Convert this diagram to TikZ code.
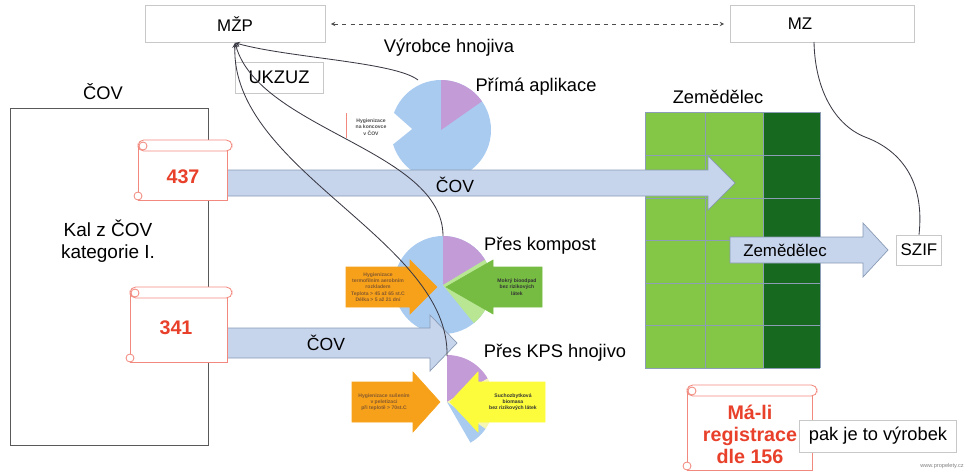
\documentclass[tikz,border=0pt]{standalone}
\usepackage{fontspec}
\setmainfont{Liberation Sans}
\usetikzlibrary{positioning}

\definecolor{boxgray}{HTML}{C8C8C8}
\definecolor{arrowfill}{HTML}{C6D4EC}
\definecolor{arrowdraw}{HTML}{8A9BB5}
\definecolor{pieblue}{HTML}{A9CBF0}
\definecolor{piepurple}{HTML}{C39BD6}
\definecolor{pielime}{HTML}{B8E692}
\definecolor{pieyellow}{HTML}{F6F6B4}
\definecolor{greenarrow}{HTML}{76BC43}
\definecolor{orangearrow}{HTML}{F7A11A}
\definecolor{yellowarrow}{HTML}{FCFC3C}
\definecolor{fieldlight}{HTML}{84C645}
\definecolor{fielddark}{HTML}{17691F}
\definecolor{gridline}{HTML}{8C9DB6}
\definecolor{scrollred}{HTML}{F2897E}
\definecolor{numred}{HTML}{E8402A}
\definecolor{curve}{HTML}{3A3A45}

\tikzset{
  box/.style={draw=boxgray, fill=white, minimum height=0.93cm, inner sep=2pt,
    font=\fontsize{12}{14}\selectfont},
  fat/.style={draw=arrowdraw, fill=arrowfill, line width=0.5pt},
  scrl/.style={draw=scrollred, line width=0.6pt, fill=white},
  tinytext/.style={font=\fontsize{3.6}{4.4}\selectfont\bfseries, align=center},
  lbl/.style={font=\fontsize{13}{15}\selectfont},
  regtext/.style={font=\fontsize{14}{15.6}\selectfont\bfseries, text=numred, align=center},
  link/.style={draw=curve, line width=0.6pt},
}

% #2 start, #3 tip, #4 head base, #5 centre y, #6 body half, #7 head half
\newcommand\fatarrow[7][fat]{%
  \draw[#1] (#2,#5-#6) -- (#4,#5-#6) -- (#4,#5-#7) -- (#3,#5)
    -- (#4,#5+#7) -- (#4,#5+#6) -- (#2,#5+#6) -- cycle;}

% scroll: left, top, right, bottom
\newcommand\scrollshape[4]{%
  \draw[scrl] (#1,#2+6) rectangle (#3-5,#4);
  \draw[scrl, rounded corners=4pt] (#1,#2) rectangle (#3,#2+11);
  \draw[scrl] (#1+5,#2+6) circle[radius=4];
  \draw[scrl] (#1,#4-4) circle[radius=4];}

\begin{document}
\begin{tikzpicture}[x=0.025cm,y=-0.025cm,>=stealth]
\useasboundingbox (0,0) rectangle (978,474);

% ministries
\node (mzp) [box, minimum width=4.5cm] at (235,24) {MŽP};
\node (mz)  [box, minimum width=4.6cm] at (822,24) {};
\node (mzname) [font=\fontsize{12}{14}\selectfont] at (800,24) {MZ};
\draw[<->, dashed, gray!60!black, shorten <=4pt, shorten >=4pt] (mzp) -- (mz);

\node (vyrobce) [lbl] at (449,48) {Výrobce hnojiva};
\node (ukzuz) [box, font=\fontsize{13}{15}\selectfont, minimum width=2.2cm, minimum height=0.77cm] at (279,77.5) {UKZUZ};

% wastewater plant
\node (covname) [lbl] at (103,92) {ČOV};
\node (cov) [draw=gray!70!black, minimum width=4.95cm, minimum height=8.42cm] at (109,276.5) {};
\node (kal) [lbl, align=center, font=\fontsize{13.5}{15.6}\selectfont] at (108,241) {Kal z ČOV\\kategorie I.};

% field
\fill[fieldlight] (645,112) rectangle (763,368);
\fill[fielddark] (763,112) rectangle (820,368);
\foreach \gx in {645,705,763,820} \draw[gridline] (\gx,112) -- (\gx,368);
\foreach \gy in {112,155,198,240,283,325,368} \draw[gridline] (645,\gy) -- (820,\gy);
\node (zemname) [lbl] at (718,97) {Zemědělec};

% pies
\coordinate (pie1) at (441,130);
\coordinate (pie2) at (443,285);
\coordinate (pie3) at (447,402);

\fill[pieblue] (pie1) circle[radius=50];
\fill[piepurple] (pie1) -- ++(-90:50) arc[start angle=-90, end angle=-35, radius=50] -- cycle;
\fill[white] (386,106) -- (412,129) -- (386,150) -- cycle;

\fill[pieblue] (pie2) circle[radius=49];
\fill[piepurple] (pie2) -- ++(-90:49) arc[start angle=-90, end angle=-31, radius=49] -- cycle;
\fill[pielime] (pie2) -- ++(-31:49) arc[start angle=-31, end angle=51, radius=49] -- cycle;

\fill[piepurple] (pie3) -- ++(-90:47) arc[start angle=-90, end angle=-30, radius=47] -- cycle;
\fill[pieyellow] (pie3) -- ++(-30:47) arc[start angle=-30, end angle=35, radius=47] -- cycle;
\fill[pieblue] (pie3) -- ++(35:47) arc[start angle=35, end angle=60, radius=47] -- cycle;

\node (prima) [lbl] at (536,87) {Přímá aplikace};
\node (kompost) [lbl] at (540,246) {Přes kompost};
\node (kps) [lbl] at (555,353) {Přes KPS hnojivo};

% small note at the first pie
\draw[scrollred, line width=0.4pt] (346,113) -- (346,138);
\node (konc) [tinytext, text=gray!60!black] at (371,127) {Hygienizace\\na koncovce\\v ČOV};

% process arrows
\fatarrow[draw=orangearrow, fill=orangearrow]{346}{437}{410}{287}{20}{27}
\node (termo) [tinytext, text=brown!70!black] at (378,287)
  {Hygienizace\\termofilním aerobním\\rozkladem\\Teplota > 45 až 65 st.C\\Délka > 5 až 21 dní};
\fatarrow[draw=greenarrow, fill=greenarrow]{542}{446}{493}{287}{20}{27}
\node (mokry) [tinytext, text=black!80] at (517,287) {Mokrý bioodpad\\bez rizikových\\látek};
\fatarrow[draw=orangearrow, fill=orangearrow]{352}{440}{413}{402}{20}{30}
\node (suseni) [tinytext, text=brown!70!black] at (384,402) {Hygienizace sušením\\v peletizaci\\při teplotě > 70st.C};
\fatarrow[draw=yellowarrow, fill=yellowarrow]{545}{450}{478}{402}{20}{30}
\node (sucho) [tinytext, text=black!80] at (513,402) {Suchozbytková\\biomasa\\bez rizikových látek};

% flows
\fatarrow{226}{735}{708}{183}{13}{27}
\node (covtop) [font=\fontsize{12.5}{14}\selectfont] at (455,185) {ČOV};
\fatarrow{226}{457}{430}{343}{15}{28}
\node (covlow) [font=\fontsize{12.5}{14}\selectfont] at (326,343) {ČOV};
\fatarrow{730}{888}{863}{250}{13}{27}
\node (zemflow) [font=\fontsize{12}{14}\selectfont] at (785,250) {Zemědělec};

\node (szif) [box, minimum width=1.12cm, minimum height=0.75cm] at (919,250) {SZIF};

% scrolls
\scrollshape{138}{140}{232}{200}
\node (n437) [font=\fontsize{14}{16}\selectfont\bfseries, text=numred] at (183,177) {437};
\scrollshape{130}{287}{232}{362}
\node (n341) [font=\fontsize{14}{16}\selectfont\bfseries, text=numred] at (176,328) {341};

% registration
\scrollshape{687}{385}{817}{470}
\node (reg) [regtext] at (750,434) {Má-li\\registrace\\dle 156};
\node (vyrobek) [box, font=\fontsize{13}{15}\selectfont, minimum width=3.92cm, minimum height=0.8cm] at (878,436) {pak je to výrobek};
\node (web) [font=\fontsize{4}{5}\selectfont, text=gray] at (942,466) {www.propelety.cz};

% control links
\coordinate (p1top) at (418,80);
\coordinate (p2top) at (443,236);
\coordinate (p3top) at (447,356);
\coordinate (mzfoot) at (814,42);
\draw[link, ->] (p1top) .. controls (395,62) and (290,58) .. (mzp.south);
\draw[link, ->] (p2top) .. controls (443,150) and (260,130) .. (mzp.south);
\draw[link, ->] (p3top) .. controls (450,240) and (230,170) .. (mzp.south);
\draw[link] (szif.north) .. controls (925,180) and (900,150) .. (865,137)
  .. controls (835,125) and (815,90) .. (mzfoot);
\end{tikzpicture}
\end{document}
